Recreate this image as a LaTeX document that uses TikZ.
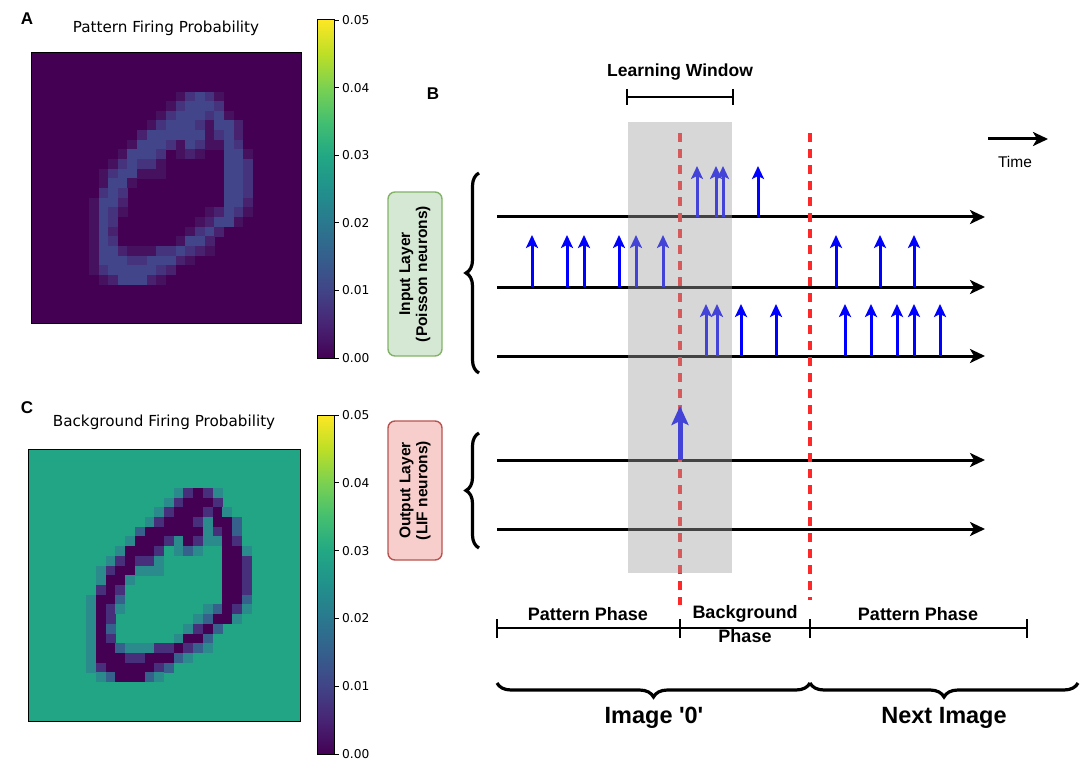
\documentclass[tikz,border=0pt]{standalone}
\usepackage{fontspec}
\setmainfont{Liberation Sans}
\newfontfamily\dejavu{DejaVu Sans}
\usetikzlibrary{arrows.meta,decorations.pathreplacing}

\definecolor{vir0}{HTML}{440154}
\definecolor{vir1}{HTML}{482475}
\definecolor{vir2}{HTML}{414487}
\definecolor{vir3}{HTML}{355F8D}
\definecolor{vir4}{HTML}{2A788E}
\definecolor{vir5}{HTML}{21918C}
\definecolor{vir6}{HTML}{22A884}
\definecolor{vir7}{HTML}{44BF70}
\definecolor{vir8}{HTML}{7AD151}
\definecolor{vir9}{HTML}{BDDF26}
\definecolor{vir10}{HTML}{FDE725}
\pgfdeclareverticalshading{viridis}{100bp}{color(0bp)=(vir0); color(25bp)=(vir0); color(30bp)=(vir1); color(35bp)=(vir2); color(40bp)=(vir3); color(45bp)=(vir4); color(50bp)=(vir5); color(55bp)=(vir6); color(60bp)=(vir7); color(65bp)=(vir8); color(70bp)=(vir9); color(75bp)=(vir10); color(100bp)=(vir10)}

% pattern panel levels
\definecolor{A0}{HTML}{440154}
\definecolor{A1}{HTML}{46115F}
\definecolor{A2}{HTML}{48226F}
\definecolor{A3}{HTML}{45337E}
\definecolor{A4}{HTML}{42458A}
% background panel levels
\definecolor{C0}{HTML}{22A585}
\definecolor{C1}{HTML}{2A8A8C}
\definecolor{C2}{HTML}{37618D}
\definecolor{C3}{HTML}{472F7C}
\definecolor{C4}{HTML}{440154}

\definecolor{inFill}{HTML}{D5E8D4}
\definecolor{inLine}{HTML}{82B366}
\definecolor{outFill}{HTML}{F8CECC}
\definecolor{outLine}{HTML}{B85450}
\definecolor{winGray}{RGB}{160,160,160}
\definecolor{phaseRed}{RGB}{255,40,40}

\newcommand\digitgrid[4]{%
  \foreach \r/\cells in {%
    4/{15/1,16/3,17/4,18/3,19/1},
    5/{14/1,15/3,16/4,17/4,18/4,19/3},
    6/{13/1,14/3,15/4,16/4,17/4,18/3,19/4,20/1},
    7/{12/1,13/3,14/4,15/4,16/4,17/3,18/1,19/4,20/4,21/2},
    8/{11/2,12/4,13/4,14/4,15/4,16/4,17/4,18/1,19/3,20/4,21/2},
    9/{10/1,11/4,12/4,13/4,14/3,15/1,16/4,17/3,18/1,19/1,20/4,21/3},
    10/{9/1,10/4,11/4,12/4,13/3,15/1,16/2,17/1,20/4,21/4,22/1},
    11/{8/1,9/3,10/4,11/3,12/3,13/1,20/4,21/4,22/3},
    12/{7/1,8/3,9/4,10/4,11/1,12/1,13/1,20/4,21/4,22/3},
    13/{7/1,8/4,9/4,10/1,20/4,21/4,22/3},
    14/{7/3,8/4,9/3,20/4,21/4,22/3},
    15/{6/1,7/4,8/4,9/2,20/4,21/4,22/2},
    16/{6/1,7/4,8/3,9/1,18/1,19/2,20/4,21/3,22/1},
    17/{6/1,7/4,8/3,17/1,18/2,19/4,20/4,21/1},
    18/{6/1,7/4,8/2,16/1,17/3,18/4,19/2},
    19/{6/1,7/4,8/3,15/1,16/4,17/4,18/2},
    20/{6/1,7/4,8/4,9/2,10/1,11/1,12/1,13/3,14/3,15/4,16/3,17/2,18/1},
    21/{6/1,7/4,8/4,9/4,10/3,11/3,12/4,13/4,14/4,15/2,16/1},
    22/{6/1,7/3,8/4,9/4,10/4,11/4,12/4,13/3,14/2},
    23/{7/1,8/2,9/4,10/4,11/4,12/2,13/1}}{%
    \foreach \c/\l in \cells {%
      \fill[#1\l] ({#2+\c*#4},{-(#3+\r*#4)}) rectangle ({#2+(\c+1)*#4+0.3},{-(#3+(\r+1)*#4)-0.3});
    }%
  }%
}

\tikzset{
  ttl/.style={font=\dejavu\fontsize{15.2}{17}\selectfont},
  tck/.style={font=\dejavu\fontsize{12.2}{14}\selectfont, anchor=west, inner sep=0pt},
  panel/.style={font=\bfseries\fontsize{17}{19}\selectfont, inner sep=0pt},
  tline/.style={line width=3pt, -{Stealth[length=15pt,width=14pt,inset=4pt]}},
  spike/.style={blue, line width=3pt, -{Stealth[length=13pt,width=12pt,inset=3pt]}},
  redd/.style={phaseRed, line width=3.3pt, dash pattern=on 9pt off 7pt},
  lbl/.style={font=\bfseries\fontsize{18}{24}\selectfont, align=center, inner sep=0pt},
  big/.style={font=\bfseries\fontsize{23.5}{26}\selectfont, inner sep=0pt},
  layerbox/.style={rounded corners=7pt, line width=1.4pt, rotate=90, align=center,
    font=\bfseries\fontsize{15.5}{17}\selectfont, minimum height=54pt, inner sep=0pt},
  brace/.style={decorate, decoration={brace, amplitude=13pt}, line width=3.2pt},
  hbrace/.style={decorate, decoration={brace, amplitude=14pt}, line width=3.2pt},
}

\begin{document}
\begin{tikzpicture}[x=1pt,y=1pt]
\useasboundingbox (0,0) rectangle (1084,-762);

%% ---------- Panel A ----------
\node[panel] (labA) at (27,-19) {A};
\node[ttl] (titA) at (166,-28) {Pattern Firing Probability};
\fill[A0] (31,-53) rectangle (301,-323);
\digitgrid{A}{31}{53}{9.643}
\draw[line width=1pt] (31,-53) rectangle (301,-323);
\shade[shading=viridis] (317,-20) rectangle (334,-358);
\draw[line width=1pt] (317,-20) rectangle (334,-358);
\foreach \v [count=\i from 0] in {0.05,0.04,0.03,0.02,0.01,0.00}{
  \draw[line width=0.9pt] (334,{-20-\i*67.6}) -- (338.5,{-20-\i*67.6});
  \node[tck] at (342,{-20-\i*67.6}) {\v};
}

%% ---------- Panel C ----------
\node[panel] (labC) at (27,-408) {C};
\node[ttl] (titC) at (164,-422) {Background Firing Probability};
\fill[C0] (28,-449) rectangle (300,-721);
\digitgrid{C}{28}{449}{9.714}
\draw[line width=1pt] (28,-449) rectangle (300,-721);
\shade[shading=viridis] (317,-415) rectangle (334,-754);
\draw[line width=1pt] (317,-415) rectangle (334,-754);
\foreach \v [count=\i from 0] in {0.05,0.04,0.03,0.02,0.01,0.00}{
  \draw[line width=0.9pt] (334,{-415-\i*67.8}) -- (338.5,{-415-\i*67.8});
  \node[tck] at (342,{-415-\i*67.8}) {\v};
}

%% ---------- Panel B ----------
\node[panel] (labB) at (433,-94) {B};

% learning window
\node[lbl, font=\bfseries\fontsize{17.5}{20}\selectfont] (lw) at (680,-72) {Learning Window};
\coordinate (lwL) at (627,-97);
\coordinate (lwR) at (733,-97);
\draw[line width=1.8pt] (lwL) -- (lwR);
\draw[line width=1.8pt] ([yshift=8pt]lwL) -- ([yshift=-8pt]lwL);
\draw[line width=1.8pt] ([yshift=8pt]lwR) -- ([yshift=-8pt]lwR);

% time legend
\coordinate (t0) at (988,-139);
\coordinate (t1) at (1048,-139);
\draw[tline] (t0) -- (t1);
\node[font=\fontsize{15.5}{17}\selectfont] (time) at (1015,-162) {Time};

% layer boxes
\node[layerbox, draw=inLine, fill=inFill, minimum width=164pt] (inbox) at (415,-274) {Input Layer\\(Poisson neurons)};
\node[layerbox, draw=outLine, fill=outFill, minimum width=139pt] (outbox) at (415,-490.5) {Output Layer\\(LIF neurons)};

% braces
\draw[brace] (479,-373) -- (479,-173);
\draw[brace] (479,-548) -- (479,-433);

% time lines
\foreach \y/\n in {217/i1,287/i2,356/i3,460/o1,529/o2}{
  \coordinate (\n s) at (497,-\y);
  \coordinate (\n e) at (985,-\y);
  \draw[tline] (\n s) -- (\n e);
}

% spikes
\foreach \x in {697,716,723,758}{\draw[spike] (\x,-217) -- (\x,-166);}
\foreach \x in {532,567,584,619,636,663,836,880,914}{\draw[spike] (\x,-287) -- (\x,-235);}
\foreach \x in {706,717,741,776,845,871,897,914,940}{\draw[spike] (\x,-356) -- (\x,-304);}

% phase boundaries
\draw[redd] (680,-133) -- (680,-605);
\draw[redd] (810,-133) -- (810,-600);

% output spike (above the boundary line)
\draw[blue, line width=5pt, -{Stealth[length=19pt,width=17pt,inset=4pt]}] (680,-460) -- (680,-406);

% learning window shading
\fill[winGray, fill opacity=0.42] (628,-122) rectangle (732,-573);

% phase bar
\draw[line width=1.6pt] (497,-628) -- (1027,-628);
\foreach \x in {497,680,810,1027}{\draw[line width=1.6pt] (\x,-619) -- (\x,-638);}
\node[lbl] (pp1) at (588,-614) {Pattern Phase};
\node[lbl] (bp) at (745,-624) {Background\\Phase};
\node[lbl] (pp2) at (918,-614) {Pattern Phase};

% image braces
\draw[hbrace] (810,-683) -- (497,-683);
\draw[hbrace] (1078,-683) -- (810,-683);
\node[big] (img0) at (654,-718) {Image \textquotesingle0\textquotesingle};
\node[big] (nxt) at (944,-718) {Next Image};
\end{tikzpicture}
\end{document}
